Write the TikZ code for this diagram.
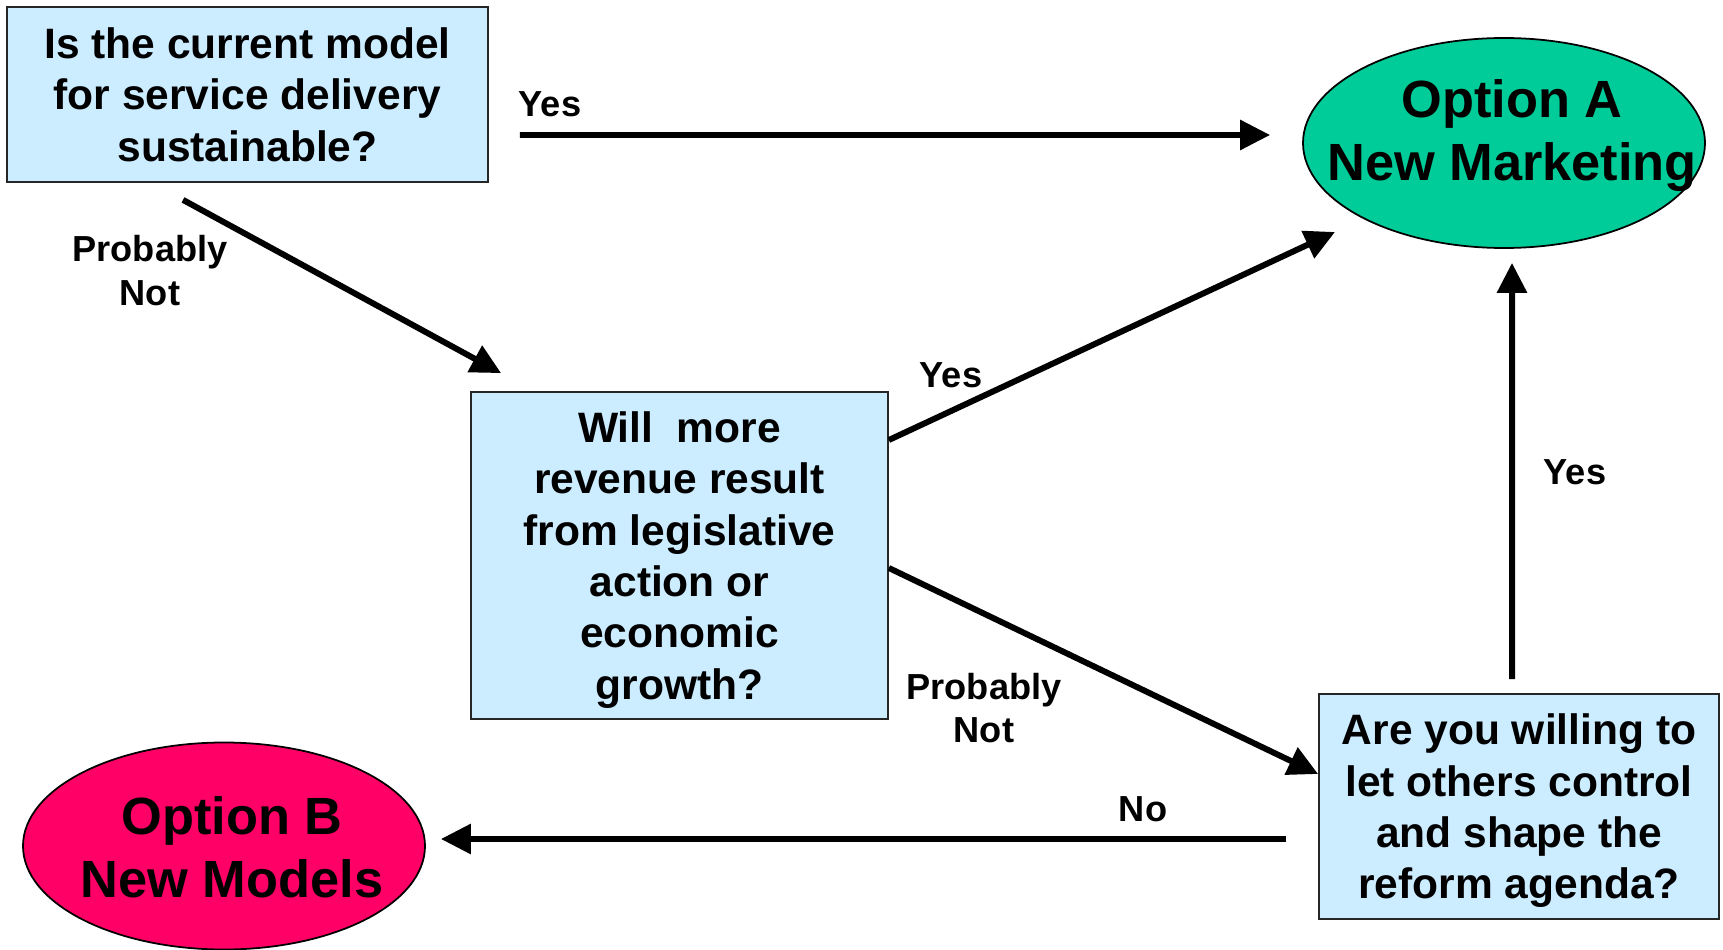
\documentclass[tikz,border=0pt]{standalone}
\usepackage{fontspec}
\setmainfont{Liberation Sans}
\usetikzlibrary{arrows.meta,shapes.geometric}
\definecolor{qblue}{HTML}{CCECFF}
\definecolor{agreen}{HTML}{00CC99}
\definecolor{bpink}{HTML}{FF0066}

\begin{document}
\begin{tikzpicture}[q/.style={draw=black!85, line width=0.5pt, fill=qblue,
				align=center, inner sep=0pt, text depth=0pt,
				font=\fontsize{12.1}{14.6}\selectfont\bfseries},
				opt/.style={ellipse, draw=black, line width=0.5pt, inner sep=0pt},
				opttxt/.style={align=center, inner sep=0pt,
				font=\fontsize{14.9}{17.9}\selectfont\bfseries},
				ans/.style={align=center, inner sep=0pt,
				font=\fontsize{10.3}{12.3}\selectfont\bfseries},
				arr/.style={line width=1.7pt, -{Triangle[length=0.30cm,width=0.29cm]}}]
				\useasboundingbox (0,0) rectangle (17.23,-9.50);

				\node[q, minimum width=4.81cm, minimum height=1.75cm] (q1) at (2.475,-0.945)
				{Is the current model\\for service delivery\\sustainable?};
				\node[q, minimum width=4.17cm, minimum height=3.27cm] (q2) at (6.795,-5.555)
				{Will~~more\\revenue result\\from legislative\\action or\\economic\\growth?};
				\node[q, minimum width=4.00cm, minimum height=2.25cm] (q3) at (15.19,-8.065)
				{Are you willing to\\let others control\\and shape the\\reform agenda?};

				\node[opt, fill=agreen, minimum width=4.02cm, minimum height=2.10cm] (oa)
				at (15.04,-1.43) {}; \node[opttxt] (oat) at ([xshift=0.08cm,yshift=0.075cm]oa.center)
				{Option A\\New Marketing};
				\node[opt, fill=bpink, minimum width=4.02cm, minimum height=2.07cm] (ob)
				at (2.24,-8.46) {}; \node[opttxt] (obt) at ([xshift=0.08cm,yshift=-0.015cm]ob.center)
				{Option B\\New Models};

				{
				\node[ans] (y1) at (5.50,-1.04) {Yes}; \node[ans] (n1) at (1.50,-2.705)
				{Probably\\Not}; \node[ans] (y2) at (9.51,-3.75) {Yes};
				\node[ans] (n2) at (9.84,-7.08) {Probably\\Not}; \node[ans] (y3) at
				(15.75,-4.72) {Yes}; \node[ans] (no) at (11.43,-8.09) {No};
				}

				\draw[arr] ([xshift=0.31cm,yshift=-0.405cm]q1.east) to
				([xshift=-0.32cm,yshift=0.08cm]oa.west);
				\draw[arr] ([xshift=-0.645cm,yshift=-0.17cm]q1.south) to
				([xshift=0.31cm,yshift=0.18cm]q2.north west);
				\draw[arr] ([yshift=1.155cm]q2.east) to
				([xshift=-1.69cm,yshift=-0.89cm]oa.center);
				\draw[arr] ([yshift=-0.125cm]q2.east) to ([yshift=0.325cm]q3.west);
				\draw[arr] ([xshift=-0.07cm,yshift=0.14cm]q3.north) to
				([xshift=0.08cm,yshift=-0.14cm]oa.south);
				\draw[arr] ([xshift=-0.32cm,yshift=-0.325cm]q3.west) to
				([xshift=0.15cm,yshift=0.07cm]ob.east);
\end{tikzpicture}
\end{document}
